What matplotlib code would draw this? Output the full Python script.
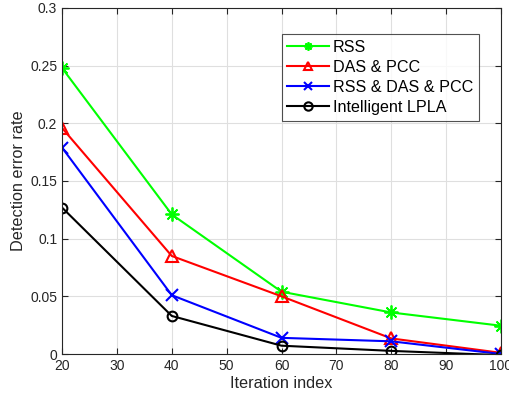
import numpy as np
import matplotlib
matplotlib.use("Agg")
import matplotlib.pyplot as plt

plt.rcParams['font.family'] = ['Liberation Sans', 'DejaVu Sans']

# data
iterations = [20, 40, 60, 80, 100]
rss = [0.248, 0.121, 0.054, 0.036, 0.0245]
das_pcc = [0.196, 0.085, 0.050, 0.0135, 0.001]
rss_das_pcc = [0.179, 0.051, 0.014, 0.011, 0.0]
lpla = [0.127, 0.033, 0.0072, 0.0027, -0.001]

series_labels = ["RSS", "DAS & PCC", "RSS & DAS & PCC", "Intelligent LPLA"]
x_ticks = [20, 30, 40, 50, 60, 70, 80, 90, 100]
y_ticks = [0, 0.05, 0.1, 0.15, 0.2, 0.25, 0.3]
y_tick_labels = ["0", "0.05", "0.1", "0.15", "0.2", "0.25", "0.3"]

fig = plt.figure(figsize=(5.1, 4.0), dpi=100)
ax = fig.add_axes([0.1216, 0.115, 0.8608, 0.865])

# MATLAB style asterisk (8 arms)
asterisk = (8, 2, 0)
ax.plot(iterations, rss, color=(0, 1, 0), marker=asterisk, markersize=10, lw=1.5,
        markeredgewidth=1.3, label=series_labels[0])
ax.plot(iterations, das_pcc, color="red", marker="^", markersize=8, lw=1.5,
        markerfacecolor="none", markeredgewidth=1.5, label=series_labels[1])
ax.plot(iterations, rss_das_pcc, color="blue", marker="x", markersize=8, lw=1.5,
        markeredgewidth=1.5, label=series_labels[2])
ax.plot(iterations, lpla, color="black", marker="o", markersize=7, lw=1.5,
        markerfacecolor="none", markeredgewidth=1.5, label=series_labels[3])

ax.set_xlim(20, 100)
ax.set_ylim(0, 0.3)
ax.set_xticks(x_ticks)
ax.set_yticks(y_ticks)
ax.set_yticklabels(y_tick_labels)
ax.grid(True, color="#dfdfdf", lw=0.8)
ax.set_axisbelow(True)

ax.tick_params(direction="in", top=True, right=True, labelsize=10,
               colors="#262626", length=4, width=0.8)
for s in ax.spines.values():
    s.set_color("#262626")
    s.set_linewidth(0.8)

ax.set_xlabel("Iteration index", fontsize=11.7, color="#262626", labelpad=2)
ax.set_ylabel("Detection error rate", fontsize=11.7, color="#262626", labelpad=3)

leg = ax.legend(loc="upper right", bbox_to_anchor=(479 / 510, 1 - 34 / 400),
                bbox_transform=fig.transFigure, fontsize=11.6, frameon=True,
                fancybox=False, edgecolor="#262626", handlelength=2.6,
                handletextpad=0.25, labelspacing=0.32, borderpad=0.35,
                borderaxespad=0)
leg.get_frame().set_linewidth(0.8)
for h in leg.legend_handles:
    h.set_markersize(6)

fig.savefig("out.png", dpi=100)
